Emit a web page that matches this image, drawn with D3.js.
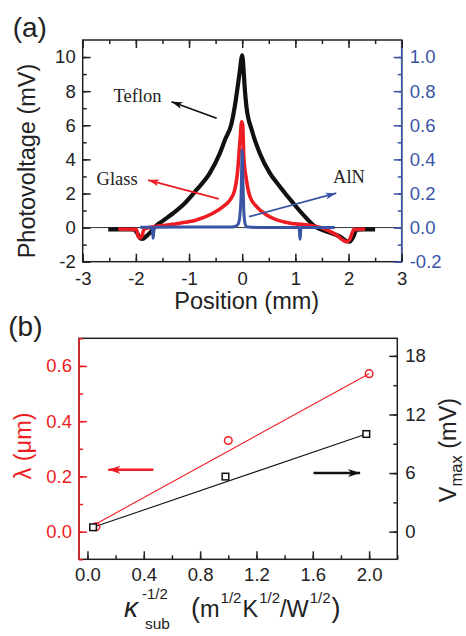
<!DOCTYPE html>
<html>
<head>
<meta charset="utf-8">
<script src="https://cdn.jsdelivr.net/npm/d3@7"></script>
<style>
body { margin: 0; background: #fff; }
svg { display: block; }
</style>
</head>
<body>
<script>
var width = 466;
var height = 636;

var black = "#111111", red = "#ee1d23", blue = "#3a54a5";
var sans = "'Liberation Sans', Arial, sans-serif";
var serif = "'Liberation Serif', 'Times New Roman', serif";

// (a) photovoltage scans, [position mm, mV]; AlN is on the right axis
var teflon = [[-2.52,-0.1],[-2.3,-0.1],[-2.05,-0.1],[-1.98,-0.3],[-1.92,-0.62],[-1.88,-0.66],[-1.8,-0.5],
  [-1.72,-0.25],[-1.64,0.05],[-1.5,0.38],[-1.3,0.84],[-1.08,1.43],[-0.86,2.21],[-0.61,3.19],[-0.42,4.36],
  [-0.325,5.14],[-0.2,6.11],[-0.14,7.09],[-0.05,9.05],[0,10.1],[0.03,9.05],[0.05,8.07],[0.08,7.09],
  [0.18,5.72],[0.33,4.36],[0.52,3.19],[0.71,2.4],[0.96,1.43],[1.18,0.64],[1.37,0.06],[1.59,-0.23],
  [1.84,-0.53],[1.97,-0.8],[2.02,-0.82],[2.09,-0.53],[2.15,-0.12],[2.3,-0.1],[2.5,-0.1]];
var glass = [[-2.33,-0.1],[-2.1,-0.1],[-1.99,-0.12],[-1.96,-0.5],[-1.92,-0.6],[-1.88,-0.45],[-1.85,-0.1],
  [-1.75,0.0],[-1.55,0.1],[-1.17,0.26],[-0.86,0.45],[-0.55,0.84],[-0.36,1.23],[-0.23,1.62],[-0.14,2.21],
  [-0.09,3.19],[-0.04,5.14],[-0.01,6.21],[0.01,6.0],[0.02,5.14],[0.03,4.16],[0.08,2.79],[0.145,1.82],
  [0.27,1.23],[0.46,0.74],[0.65,0.45],[0.9,0.26],[1.21,0.16],[1.52,-0.04],[1.77,-0.43],[1.96,-0.82],
  [2.02,-0.7],[2.07,-0.3],[2.1,-0.12],[2.2,-0.1],[2.31,-0.1]];
var aln = [[-1.92,0.002],[-1.7,0.002],[-1.685,-0.03],[-1.675,-0.062],[-1.665,-0.03],[-1.65,0.002],
  [-1.2,0.004],[-0.6,0.003],[-0.2,0.004],[-0.12,0.008],[-0.07,0.025],[-0.04,0.08],[-0.02,0.2],[0,0.455],
  [0.015,0.25],[0.03,0.1],[0.05,0.03],[0.08,0.005],[0.3,0.001],[0.7,0.001],[1.07,0.001],[1.08,-0.04],
  [1.088,-0.068],[1.096,-0.04],[1.105,0.001],[1.4,0.001],[1.74,0.001]];
var posTicks = [-3,-2,-1,0,1,2,3];
var pvTicks = [-2,0,2,4,6,8,10];
var alnTicks = [-0.2,0,0.2,0.4,0.6,0.8,1.0];

// (b) lambda and Vmax vs kappa^-1/2
var kappaLambda = [0.06, 1.0, 2.0];
var lambdaVals = [0.018, 0.33, 0.572];
var kappaVmax = [0.04, 0.98, 1.98];
var vmaxVals = [0.45, 5.64, 10.0];
var lambdaFit = [[0.06,0.028],[2.0,0.572]];
var vmaxFit = [[0.04,0.45],[1.98,10.0]];
var kappaTicks = [0,0.4,0.8,1.2,1.6,2.0];
var lambdaTicks = [0,0.2,0.4,0.6];
var vmaxTicks = [0,6,12,18];

var A = {left: 82.7, right: 401.7, top: 40, bottom: 261.7};
var B = {left: 79, right: 397.3, top: 338.3, bottom: 559.3};

var svg = d3.select("body")
  .append("svg")
  .attr("width", width)
  .attr("height", height)
  .style("background", "#fff");

var defs = svg.append("defs");
function arrowHead(id, color, len, wid) {
  defs.append("marker")
    .attr("id", id)
    .attr("markerUnits", "userSpaceOnUse")
    .attr("viewBox", `0 0 ${len} ${wid}`)
    .attr("refX", len).attr("refY", wid / 2)
    .attr("markerWidth", len).attr("markerHeight", wid)
    .attr("orient", "auto")
    .append("path")
      .attr("d", `M0,0L${len},${wid/2}L0,${wid}L${len*0.25},${wid/2}Z`)
      .attr("fill", color);
}
arrowHead("ahBlack", black, 11, 7);
arrowHead("ahRed", red, 11, 7);
arrowHead("ahBlue", blue, 11, 7);
arrowHead("bhRed", red, 12, 8);
arrowHead("bhBlack", black, 12, 8);

function fmt1(d) { return d3.format(".1f")(d).replace("−", "-"); }
function fmt0(d) { return d3.format("d")(d).replace("−", "-"); }

function drawAxis(axisFn, scale, transform, major, minor, fmt, pad, color) {
  var g1 = svg.append("g").attr("transform", transform)
    .call(axisFn(scale).tickValues(minor).tickSizeInner(-4).tickSizeOuter(0).tickFormat(""));
  var g2 = svg.append("g").attr("transform", transform)
    .call(axisFn(scale).tickValues(major).tickSizeInner(-8).tickSizeOuter(0).tickPadding(pad).tickFormat(fmt || ""));
  [g1, g2].forEach(function(g) {
    g.select(".domain").remove();
    g.selectAll(".tick line").attr("stroke", color).attr("stroke-width", 1.5);
    g.selectAll(".tick text")
      .attr("fill", color)
      .style("font-family", sans)
      .style("font-size", "18.5px");
  });
}

// ---------- panel (a)
var xA = d3.scaleLinear().domain([-3, 3]).range([A.left, A.right]);
var yA = d3.scaleLinear().domain([-2, 11]).range([A.bottom, A.top]);
var yA2 = d3.scaleLinear().domain([-0.2, 1.1]).range([A.bottom, A.top]);

svg.append("line")
  .attr("x1", xA(-3)).attr("x2", xA(3))
  .attr("y1", yA(0)).attr("y2", yA(0))
  .attr("stroke", "#333").attr("stroke-width", 1);

var lineA = d3.line().x(function(d) { return xA(d[0]); }).y(function(d) { return yA(d[1]); }).curve(d3.curveMonotoneX);
var lineA2 = d3.line().x(function(d) { return xA(d[0]); }).y(function(d) { return yA2(d[1]); }).curve(d3.curveMonotoneX);

svg.append("path").datum(teflon)
  .attr("d", lineA).attr("fill", "none").attr("stroke", black)
  .attr("stroke-width", 4.2).attr("stroke-linejoin", "round");
svg.append("path").datum(glass)
  .attr("d", lineA).attr("fill", "none").attr("stroke", red)
  .attr("stroke-width", 3.6).attr("stroke-linejoin", "round");
svg.append("path").datum(aln)
  .attr("d", lineA2).attr("fill", "none").attr("stroke", blue)
  .attr("stroke-width", 3).attr("stroke-linejoin", "round");

svg.append("rect")
  .attr("x", A.left).attr("y", A.top)
  .attr("width", A.right - A.left).attr("height", A.bottom - A.top)
  .attr("fill", "none").attr("stroke", "#222").attr("stroke-width", 1.5);
svg.append("line")
  .attr("x1", A.right).attr("x2", A.right).attr("y1", A.top).attr("y2", A.bottom)
  .attr("stroke", blue).attr("stroke-width", 1.5);

var posMinor = d3.range(-3, 3.01, 0.5);
drawAxis(d3.axisBottom, xA, `translate(0,${A.bottom})`, posTicks, posMinor, fmt0, 10, "#222");
drawAxis(d3.axisTop, xA, `translate(0,${A.top})`, posTicks, posMinor, null, 0, "#222");
drawAxis(d3.axisLeft, yA, `translate(${A.left},0)`, pvTicks, d3.range(-2, 11, 1), fmt0, 7, "#222");
drawAxis(d3.axisRight, yA2, `translate(${A.right},0)`, alnTicks, d3.range(-0.2, 1.05, 0.1), fmt1, 8, blue);

// annotations (a)
function arrowA(x1, y1, x2, y2, color, id, sy) {
  svg.append("line")
    .attr("x1", xA(x1)).attr("y1", sy(y1))
    .attr("x2", xA(x2)).attr("y2", sy(y2))
    .attr("stroke", color).attr("stroke-width", 1.8)
    .attr("marker-end", `url(#${id})`);
}
arrowA(-0.48, 6.41, -1.33, 7.38, black, "ahBlack", yA);
arrowA(-0.44, 1.68, -1.77, 2.79, red, "ahRed", yA);
arrowA(0.13, 0.064, 1.77, 0.202, blue, "ahBlue", yA2);

svg.append("text").attr("x", xA(-2.42)).attr("y", yA(7.38))
  .style("font-family", serif).style("font-size", "18.5px").attr("fill", "#222").text("Teflon");
svg.append("text").attr("x", xA(-2.74)).attr("y", yA(2.5))
  .style("font-family", serif).style("font-size", "18.5px").attr("fill", "#222").text("Glass");
svg.append("text").attr("x", xA(1.71)).attr("y", yA(2.64))
  .style("font-family", serif).style("font-size", "18.5px").attr("fill", "#222").text("AlN");

svg.append("text").attr("x", 12.7).attr("y", 37.4)
  .style("font-family", sans).style("font-size", "28px").attr("fill", "#222").text("(a)");
svg.append("text")
  .attr("transform", "translate(35,161) rotate(-90)")
  .attr("text-anchor", "middle")
  .style("font-family", sans).style("font-size", "23.5px").attr("fill", "#222")
  .text("Photovoltage (mV)");
svg.append("text").attr("x", 246.7).attr("y", 308.5)
  .attr("text-anchor", "middle")
  .style("font-family", sans).style("font-size", "23.5px").attr("fill", "#222")
  .text("Position (mm)");

// ---------- panel (b)
var xB = d3.scaleLinear().domain([-0.06, 2.2]).range([B.left, B.right]);
var yB = d3.scaleLinear().domain([-0.1, 0.7]).range([B.bottom, B.top]);
var yB2 = d3.scaleLinear().domain([-2.83, 19.8]).range([B.bottom, B.top]);

svg.append("rect")
  .attr("x", B.left).attr("y", B.top)
  .attr("width", B.right - B.left).attr("height", B.bottom - B.top)
  .attr("fill", "none").attr("stroke", "#222").attr("stroke-width", 1.5);
svg.append("line")
  .attr("x1", B.left).attr("x2", B.left).attr("y1", B.top).attr("y2", B.bottom)
  .attr("stroke", red).attr("stroke-width", 1.5);

drawAxis(d3.axisBottom, xB, `translate(0,${B.bottom})`, kappaTicks, d3.range(0, 2.21, 0.2), fmt1, 9, "#222");
drawAxis(d3.axisLeft, yB, `translate(${B.left},0)`, lambdaTicks, d3.range(-0.1, 0.71, 0.1), fmt1, 7, red);
drawAxis(d3.axisRight, yB2, `translate(${B.right},0)`, vmaxTicks, d3.range(0, 19.9, 3), fmt0, 8, "#222");

svg.append("path").datum(lambdaFit)
  .attr("d", d3.line().x(function(d) { return xB(d[0]); }).y(function(d) { return yB(d[1]); }))
  .attr("stroke", red).attr("stroke-width", 1.1).attr("fill", "none");
svg.append("path").datum(vmaxFit)
  .attr("d", d3.line().x(function(d) { return xB(d[0]); }).y(function(d) { return yB2(d[1]); }))
  .attr("stroke", black).attr("stroke-width", 1.1).attr("fill", "none");

svg.selectAll(".lam")
  .data(kappaLambda)
  .enter()
  .append("circle")
    .attr("cx", function(d) { return xB(d); })
    .attr("cy", function(d, i) { return yB(lambdaVals[i]); })
    .attr("r", 3.8)
    .attr("fill", "none").attr("stroke", red).attr("stroke-width", 1.5);

svg.selectAll(".vm")
  .data(kappaVmax)
  .enter()
  .append("rect")
    .attr("x", function(d) { return xB(d) - 3.3; })
    .attr("y", function(d, i) { return yB2(vmaxVals[i]) - 3.3; })
    .attr("width", 6.6).attr("height", 6.6)
    .attr("fill", "#fff").attr("stroke", black).attr("stroke-width", 1.5);

svg.append("line")
  .attr("x1", xB(0.468)).attr("x2", xB(0.148))
  .attr("y1", yB(0.224)).attr("y2", yB(0.224))
  .attr("stroke", red).attr("stroke-width", 2.5).attr("marker-end", "url(#bhRed)");
svg.append("line")
  .attr("x1", xB(1.605)).attr("x2", xB(1.936))
  .attr("y1", yB2(6.0)).attr("y2", yB2(6.0))
  .attr("stroke", black).attr("stroke-width", 2.5).attr("marker-end", "url(#bhBlack)");

svg.append("text").attr("x", 8.3).attr("y", 335.8)
  .style("font-family", sans).style("font-size", "28px").attr("fill", "#222").text("(b)");

svg.append("text")
  .attr("transform", "translate(31,446) rotate(-90)")
  .attr("text-anchor", "middle")
  .style("font-family", sans).style("font-size", "23.5px").attr("fill", red)
  .text("λ (μm)");

var vlab = svg.append("text")
  .attr("transform", "translate(456,450) rotate(-90)")
  .attr("text-anchor", "middle")
  .style("font-family", sans).style("font-size", "23.5px").attr("fill", "#222");
vlab.append("tspan").text("V");
vlab.append("tspan").attr("dy", 6).style("font-size", "16.5px").text("max");
vlab.append("tspan").attr("dy", -6).text(" (mV)");

// x title of (b): kappa with its scripts, then the unit as a flowing run
var kap = svg.append("g")
  .style("font-family", sans).attr("fill", "#222");
kap.append("text").attr("x", 124).attr("y", 617)
  .style("font-size", "28px").style("font-style", "italic").text("κ");
kap.append("text").attr("x", 142).attr("y", 599)
  .style("font-size", "15px").text("-1/2");
kap.append("text").attr("x", 145).attr("y", 629)
  .style("font-size", "15.5px").text("sub");

var unit = svg.append("text")
  .attr("x", 191).attr("y", 617)
  .style("font-family", sans).style("font-size", "23.5px").attr("fill", "#222");
unit.append("tspan").style("font-size", "27px").text("(");
unit.append("tspan").text("m");
unit.append("tspan").attr("dx", 1).attr("dy", -14).style("font-size", "15px").text("1/2");
unit.append("tspan").attr("dx", 1).attr("dy", 14).text("K");
unit.append("tspan").attr("dx", 1).attr("dy", -14).style("font-size", "15px").text("1/2");
unit.append("tspan").attr("dy", 14).text("/W");
unit.append("tspan").attr("dx", 1).attr("dy", -14).style("font-size", "15px").text("1/2");
unit.append("tspan").attr("dx", 1).attr("dy", 14).style("font-size", "27px").text(")");
</script>
</body>
</html>
